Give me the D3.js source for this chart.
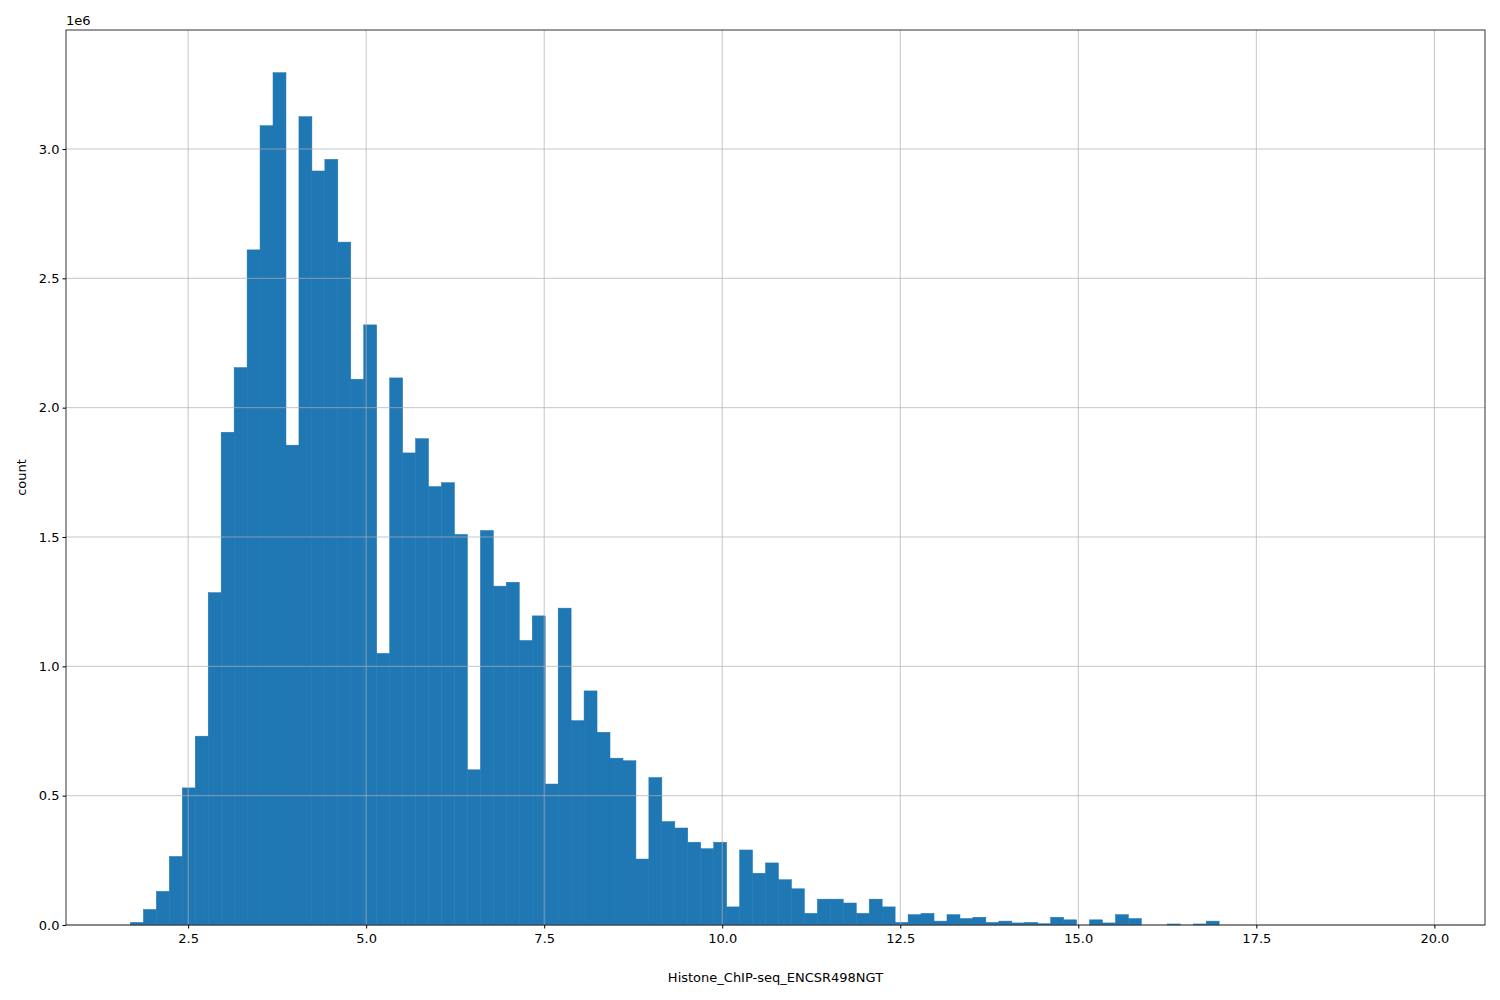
<!DOCTYPE html>
<html><head><meta charset="utf-8">
<script src="https://cdn.jsdelivr.net/npm/d3@7"></script>
<style>body{margin:0;background:#fff}text{font-family:"DejaVu Sans",sans-serif}</style>
</head><body>
<svg id="chart" width="1500" height="1000"></svg>
<script>
var binStart = 1.69, binWidth = 0.182;
// counts in millions, per bin
var counts = [0.01,0.06,0.13,0.265,0.53,0.73,1.285,1.905,2.155,2.61,
  3.09,3.295,1.855,3.125,2.915,2.96,2.64,2.11,2.32,1.05,
  2.115,1.825,1.88,1.695,1.71,1.51,0.60,1.525,1.31,1.325,
  1.10,1.195,0.545,1.225,0.79,0.905,0.745,0.645,0.635,0.255,
  0.57,0.40,0.375,0.32,0.295,0.32,0.07,0.29,0.20,0.24,
  0.175,0.14,0.045,0.10,0.10,0.085,0.045,0.10,0.07,0.01,
  0.04,0.045,0.015,0.04,0.025,0.03,0.01,0.015,0.008,0.01,
  0.005,0.03,0.02,0,0.02,0.008,0.04,0.025,0,0,
  0.004,0,0.004,0.015,0,0,0,0,0,0,
  0,0,0,0,0,0,0,0,0,0];
var xTicks = [2.5,5.0,7.5,10.0,12.5,15.0,17.5,20.0];
var yTicks = [0,0.5,1.0,1.5,2.0,2.5,3.0];

var m = {left:66, right:1485, top:30, bottom:925};
var svg = d3.select("#chart");
var x = d3.scaleLinear().domain([0.785, 20.711]).range([m.left, m.right]);
var y = d3.scaleLinear().domain([0, 3.46]).range([m.bottom, m.top]);

svg.selectAll("rect.bar").data(counts).enter().append("rect")
  .attr("class","bar")
  .attr("x", function(d,i){ return x(binStart + i*binWidth); })
  .attr("width", x(binStart + binWidth) - x(binStart))
  .attr("y", function(d){ return y(d); })
  .attr("height", function(d){ return m.bottom - y(d); })
  .attr("fill","#1f77b4").attr("stroke","#1f77b4").attr("stroke-width",0.5);

// grid
var grid = svg.append("g").attr("stroke","#b0b0b0").attr("stroke-width",0.8).attr("opacity",0.9);
xTicks.forEach(function(t){
  grid.append("line").attr("x1",x(t)).attr("x2",x(t)).attr("y1",m.top).attr("y2",m.bottom);
});
yTicks.forEach(function(t){
  grid.append("line").attr("x1",m.left).attr("x2",m.right).attr("y1",y(t)).attr("y2",y(t));
});

svg.append("g").attr("transform","translate(0,"+m.bottom+")")
  .call(d3.axisBottom(x).tickValues(xTicks).tickFormat(d3.format(".1f")).tickSizeOuter(0).tickSize(3.5))
  .call(function(g){ g.select(".domain").remove(); g.selectAll("text").attr("font-size",13).attr("dy","0.9em"); });
svg.append("g").attr("transform","translate("+m.left+",0)")
  .call(d3.axisLeft(y).tickValues(yTicks).tickFormat(d3.format(".1f")).tickSizeOuter(0).tickSize(3.5))
  .call(function(g){ g.select(".domain").remove(); g.selectAll("text").attr("font-size",13); });

svg.append("rect").attr("x",m.left).attr("y",m.top).attr("width",m.right-m.left).attr("height",m.bottom-m.top)
  .attr("fill","none").attr("stroke","#000").attr("stroke-width",0.8);

svg.append("text").attr("x",m.left).attr("y",m.top-5).attr("font-size",13).text("1e6");
svg.append("text").attr("x",(m.left+m.right)/2).attr("y",982).attr("text-anchor","middle").attr("font-size",13)
  .text("Histone_ChIP-seq_ENCSR498NGT");
svg.append("text").attr("transform","translate(26,"+((m.top+m.bottom)/2)+") rotate(-90)")
  .attr("text-anchor","middle").attr("font-size",13).text("count");
</script>
</body></html>
